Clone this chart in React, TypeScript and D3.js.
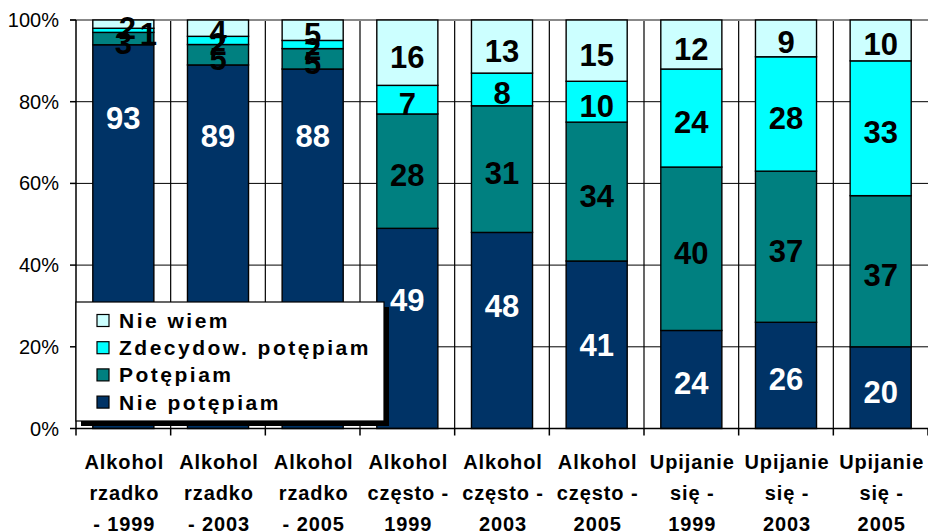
import React from "react";
import * as d3 from "d3";

const categories: string[][] = [
  ["Alkohol", "rzadko", "- 1999"],
  ["Alkohol", "rzadko", "- 2003"],
  ["Alkohol", "rzadko", "- 2005"],
  ["Alkohol", "często -", "1999"],
  ["Alkohol", "często -", "2003"],
  ["Alkohol", "często -", "2005"],
  ["Upijanie", "się -", "1999"],
  ["Upijanie", "się -", "2003"],
  ["Upijanie", "się -", "2005"],
];

const seriesNames = ["Nie potępiam", "Potępiam", "Zdecydow. potępiam", "Nie wiem"];
const niePotepiam = [93, 89, 88, 49, 48, 41, 24, 26, 20];
const potepiam = [3, 5, 5, 28, 31, 34, 40, 37, 37];
const zdecydowPotepiam = [1, 2, 2, 7, 8, 10, 24, 28, 33];
const nieWiem = [2, 4, 5, 16, 13, 15, 12, 9, 10];

const yTicks = [0, 20, 40, 60, 80, 100];

// manually moved data labels (in percentage points), as in the original
const darkLabelNudge = [30, 28, 28.5, 8, 7, 1, 0, 0, 0];

const colors = ["#003366", "#008080", "#00FFFF", "#CCFFFF"];
const labelColors = ["#FFFFFF", "#000000", "#000000", "#000000"];

const W = 928;
const H = 532;
const FONT = "'Liberation Sans', Arial, sans-serif";

export default function App() {
  const left = 76;
  const right = 928;
  const top = 20;
  const bottom = 428.5;
  const pad = 0.355;

  const idx = categories.map((_, i) => String(i));
  const x = d3.scaleBand<string>().domain(idx).range([left, right]).paddingInner(pad).paddingOuter(pad / 2);
  const step = x.step();
  const y = d3.scaleLinear().domain([0, 100]).range([bottom, top]);

  const rows = categories.map((_, i) => ({
    s0: niePotepiam[i],
    s1: potepiam[i],
    s2: zdecydowPotepiam[i],
    s3: nieWiem[i],
  }));
  const raw = [niePotepiam, potepiam, zdecydowPotepiam, nieWiem];
  const stacked = d3.stack<any>().keys(["s0", "s1", "s2", "s3"]).offset(d3.stackOffsetExpand)(rows);

  const boundary = (k: number) => left + k * step;

  return (
    <svg width={W} height={H} style={{ position: "absolute", left: 0, top: 0, background: "#fff" }} fontFamily={FONT}>
      {/* horizontal gridlines */}
      {yTicks.filter((t) => t > 0 && t < 100).map((t) => (
        <line key={"g" + t} x1={left} x2={right} y1={y(t)} y2={y(t)} stroke="#000" strokeWidth={1} />
      ))}
      {/* vertical gridlines */}
      {d3.range(1, categories.length).map((k) => (
        <line key={"v" + k} x1={boundary(k)} x2={boundary(k)} y1={top} y2={bottom} stroke="#000" strokeWidth={1.2} />
      ))}
      {/* top border */}
      <line x1={left - 6} x2={right} y1={y(100)} y2={y(100)} stroke="#888" strokeWidth={2} />

      {/* bars */}
      {stacked.map((s, si) => (
        <g key={"s" + si}>
          {s.map((d, i) => (
            <rect
              key={i}
              x={x(String(i))!}
              width={x.bandwidth()}
              y={y(d[1] * 100)}
              height={y(d[0] * 100) - y(d[1] * 100)}
              fill={colors[si]}
              stroke="#000"
              strokeWidth={1.4}
            />
          ))}
        </g>
      ))}

      {/* data labels */}
      {stacked.map((s, si) => (
        <g key={"l" + si}>
          {s.map((d, i) => {
            const mid = ((d[0] + d[1]) / 2) * 100 + (si === 0 ? darkLabelNudge[i] : 0);
            const dx = si === 2 && i === 0 ? 25 : si === 3 && i === 0 ? 4 : 0;
            return (
              <text
                key={i}
                x={x(String(i))! + x.bandwidth() / 2 + dx}
                y={y(mid) + 4 + 11}
                textAnchor="middle"
                fontSize={31}
                fontWeight="bold"
                fill={labelColors[si]}
              >
                {raw[si][i]}
              </text>
            );
          })}
        </g>
      ))}

      {/* y axis */}
      <line x1={left} x2={left} y1={top} y2={bottom} stroke="#000" strokeWidth={1.5} />
      {yTicks.map((t) => (
        <g key={"yt" + t}>
          <line x1={left - 6} x2={left} y1={y(t)} y2={y(t)} stroke="#000" strokeWidth={1.5} />
          <text x={59} y={y(t) + 7} textAnchor="end" fontSize={20} fill="#000">
            {t + "%"}
          </text>
        </g>
      ))}

      {/* x axis */}
      <line x1={left} x2={right} y1={bottom} y2={bottom} stroke="#000" strokeWidth={1.5} />
      {d3.range(0, categories.length + 1).map((k) => (
        <line key={"xt" + k} x1={boundary(k)} x2={boundary(k)} y1={bottom} y2={bottom + 7} stroke="#000" strokeWidth={1.5} />
      ))}
      {categories.map((lines, i) => (
        <text
          key={"xl" + i}
          x={x(String(i))! + x.bandwidth() / 2 + 1}
          textAnchor="middle"
          fontSize={20}
          fontWeight="bold"
          letterSpacing={0.9}
          fill="#000"
        >
          {lines.map((ln, j) => (
            <tspan key={j} x={x(String(i))! + x.bandwidth() / 2 + 1} y={469 + j * 31}>
              {ln}
            </tspan>
          ))}
        </text>
      ))}

      {/* legend */}
      <g>
        <rect x={81} y={307} width={308} height={119} fill="#000" />
        <rect x={76} y={302} width={308} height={119} fill="#fff" stroke="#000" strokeWidth={1.2} />
        {[3, 2, 1, 0].map((si, r) => {
          const cy = 320.5 + r * 27.2;
          return (
            <g key={"lg" + si}>
              <rect x={97} y={cy - 6} width={12} height={12} fill={colors[si]} stroke="#000" strokeWidth={1.2} />
              <text x={119} y={cy + 7.5} fontSize={21} fontWeight="bold" letterSpacing={2.5} fill="#000">
                {seriesNames[si]}
              </text>
            </g>
          );
        })}
      </g>
    </svg>
  );
}
